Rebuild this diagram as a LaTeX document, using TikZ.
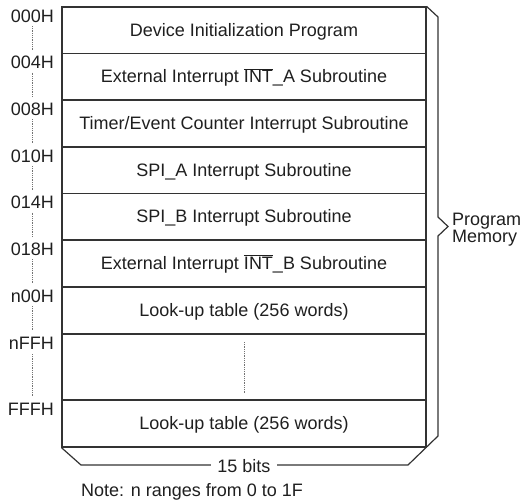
\documentclass[tikz,border=0pt]{standalone}
\usepackage{fontspec}
\setmainfont{Liberation Sans}
\newcommand{\ovlt}[1]{$\overline{\hbox{#1}}$}
\begin{document}
\begin{tikzpicture}[x=1pt,y=-1pt,
  txt/.style={font=\fontsize{18}{17}\selectfont, text=black!88},
  rowbox/.style={draw=black!80, line width=1.2pt, minimum width=364pt, inner sep=0pt, text height=13pt, text depth=1.5pt, txt},
  addr/.style={anchor=base east, inner sep=0pt, txt},
  dots/.style={draw=black!55, line width=0.9pt, dash pattern=on 0.9pt off 0.9pt},
  frame/.style={draw=black!80, line width=1.2pt, line join=miter}]
\useasboundingbox (0,0) rectangle (522,501);
% rows
\node[rowbox, minimum height=46.5pt] (r1) at (244,30.25) {Device Initialization Program};
\node[rowbox, minimum height=46.5pt] (r2) at (244,76.75) {External Interrupt \ovlt{INT}\_A Subroutine};
\node[rowbox, minimum height=47pt] (r3) at (244,123.5) {Timer/Event Counter Interrupt Subroutine};
\node[rowbox, minimum height=46.5pt] (r4) at (244,170.25) {SPI\_A Interrupt Subroutine};
\node[rowbox, minimum height=46.5pt] (r5) at (244,216.75) {SPI\_B Interrupt Subroutine};
\node[rowbox, minimum height=47pt] (r6) at (244,263.5) {External Interrupt \ovlt{INT}\_B Subroutine};
\node[rowbox, minimum height=47pt] (r7) at (244,310.5) {Look-up table (256 words)};
\node[rowbox, minimum height=66pt] (r8) at (244,367) {};
\node[rowbox, minimum height=47pt] (r9) at (244,423.5) {Look-up table (256 words)};
\coordinate (d8a) at (244,342);
\coordinate (d8b) at (244,394);
\draw[dots] (d8a) -- (d8b);
% address labels
\node[addr] (a1) at (54,22) {000H};
\node[addr] (a2) at (54,68.5) {004H};
\node[addr] (a3) at (54,115) {008H};
\node[addr] (a4) at (54,162) {010H};
\node[addr] (a5) at (54,208.5) {014H};
\node[addr] (a6) at (54,255) {018H};
\node[addr] (a7) at (54,302) {n00H};
\node[addr] (a8) at (54,349) {nFFH};
\node[addr] (a9) at (54,415) {FFFH};
\draw[dots] (32,26) -- (32,50.5);
\draw[dots] (32,72.5) -- (32,97);
\draw[dots] (32,119) -- (32,144);
\draw[dots] (32,166) -- (32,190.5);
\draw[dots] (32,212.5) -- (32,237);
\draw[dots] (32,259) -- (32,284);
\draw[dots] (32,306) -- (32,331);
\draw[dots] (32,354) -- (32,396);
% right side face with brace and bottom face
\draw[frame] (r1.north east) -- (438,17) -- (438,217) -- (448,226.5) -- (438,236) -- (438,436) -- (408,465) -- (81,465) -- (r9.south west);
\node[txt, fill=white, inner xsep=6pt, inner ysep=0pt] (bits) at (244,466) {15 bits};
\node[txt, anchor=west, inner sep=0pt, align=left] (pm) at (452,230) {Program\\Memory};
\node[txt, anchor=base west, inner sep=0pt] (note) at (81,496) {Note: n ranges from 0 to 1F};
\end{tikzpicture}
\end{document}
